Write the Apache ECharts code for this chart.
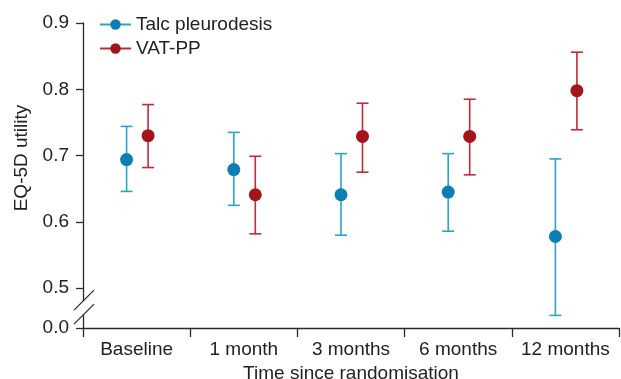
<!DOCTYPE html>
<html>
<head>
<meta charset="utf-8">
<script src="https://cdn.jsdelivr.net/npm/echarts@6/dist/echarts.min.js"></script>
<style>
  html, body { margin: 0; padding: 0; background: #fff; }
  #chart { width: 621px; height: 379px; }
</style>
</head>
<body>
<div id="chart"></div>
<script>
const categories = ['Baseline', '1 month', '3 months', '6 months', '12 months']
const talcMean = [0.694, 0.679, 0.641, 0.645, 0.578]
const talcLow = [0.646, 0.625, 0.580, 0.586, 0.459]
const talcHigh = [0.744, 0.735, 0.703, 0.703, 0.695]
const vatMean = [0.730, 0.641, 0.729, 0.729, 0.798]
const vatLow = [0.682, 0.582, 0.675, 0.671, 0.739]
const vatHigh = [0.777, 0.699, 0.779, 0.785, 0.856]
const yTicks = [0.5, 0.6, 0.7, 0.8, 0.9]
const yBreakBase = 0.44 // axis is cut here, drawn as 0.0

const font = '"Liberation Sans", Arial, sans-serif'
const fontSize = 19
const axisColor = '#2b2b2b'
const textColor = '#222'
const gridLeft = 83
const talc = { dot: '#0b7fb5', bar: '#2ba3cc', offset: -10 }
const vat = { dot: '#a3141b', bar: '#c22a3a', offset: 11.5 }

const chart = echarts.init(document.getElementById('chart'))

function errorBars(name, low, high, c) {
  return {
    type: 'custom',
    name,
    silent: true,
    z: 2,
    data: low.map((l, i) => [i, l, high[i]]),
    encode: { x: 0, y: [1, 2] },
    renderItem: (params, api) => {
      const lo = api.coord([api.value(0), api.value(1)])
      const hi = api.coord([api.value(0), api.value(2)])
      const x = lo[0] + c.offset
      const w = 6
      const style = { stroke: c.bar, lineWidth: 1.6 }
      return {
        type: 'group',
        children: [
          { type: 'line', shape: { x1: x, y1: hi[1], x2: x, y2: lo[1] }, style },
          { type: 'line', shape: { x1: x - w, y1: hi[1], x2: x + w, y2: hi[1] }, style },
          { type: 'line', shape: { x1: x - w, y1: lo[1], x2: x + w, y2: lo[1] }, style },
        ],
      }
    },
  }
}

function points(name, values, c) {
  return {
    type: 'line',
    name,
    data: values,
    symbol: 'circle',
    symbolSize: 13,
    symbolOffset: [c.offset, 0],
    showSymbol: true,
    lineStyle: { opacity: 0 },
    itemStyle: { color: c.dot },
    z: 3,
    silent: true,
  }
}

chart.setOption({
  animation: false,
  textStyle: { fontFamily: font },
  grid: { left: gridLeft, right: 2, top: 23, bottom: 51, containLabel: false, outerBoundsMode: 'none' },
  legend: {
    orient: 'vertical',
    left: 94,
    top: 10,
    itemWidth: 31,
    itemHeight: 13,
    itemGap: 5,
    textStyle: { fontSize, color: textColor, fontFamily: font },
    data: [
      { name: 'Talc pleurodesis', lineStyle: { color: talc.bar, width: 2, opacity: 1 } },
      { name: 'VAT-PP', lineStyle: { color: vat.bar, width: 2, opacity: 1 } },
    ],
  },
  xAxis: {
    type: 'category',
    data: categories,
    boundaryGap: true,
    name: 'Time since randomisation',
    nameLocation: 'middle',
    nameGap: 33,
    nameTextStyle: { fontSize, color: textColor },
    axisLine: { lineStyle: { color: axisColor, width: 1.3 } },
    axisTick: { show: true, interval: 0, length: 9, lineStyle: { color: axisColor, width: 1.3 } },
    axisLabel: { interval: 0, fontSize, color: textColor, margin: 12 },
  },
  yAxis: {
    type: 'value',
    min: yBreakBase,
    max: 0.9,
    name: 'EQ-5D utility',
    nameLocation: 'middle',
    nameGap: 52,
    nameRotate: 90,
    nameTextStyle: { fontSize, color: textColor, padding: [0, 0, 0, 35] },
    splitLine: { show: false },
    axisLine: { show: true, lineStyle: { color: axisColor, width: 1.3 } },
    axisTick: {
      show: true,
      length: 7,
      customValues: [yBreakBase, ...yTicks],
      lineStyle: { color: axisColor, width: 1.3 },
    },
    axisLabel: {
      fontSize,
      color: textColor,
      margin: 14,
      customValues: [yBreakBase, ...yTicks],
      formatter: (v) => (v < yTicks[0] - 0.01 ? '0.0' : v.toFixed(1)),
    },
  },
  series: [
    errorBars('Talc CI', talcLow, talcHigh, talc),
    errorBars('VAT CI', vatLow, vatHigh, vat),
    points('Talc pleurodesis', talcMean, talc),
    points('VAT-PP', vatMean, vat),
  ],
})

// break marks on the y axis between 0.0 and 0.5
const breakY = chart.convertToPixel({ yAxisIndex: 0 }, (yTicks[0] + yBreakBase) / 2)
const yUp = breakY - 7
const yDown = breakY + 7
const slash = (y) => ({
  type: 'line',
  z: 100,
  shape: { x1: gridLeft - 9, y1: y + 9, x2: gridLeft + 11, y2: y - 11 },
  style: { stroke: axisColor, lineWidth: 1.3 },
})
chart.setOption({
  graphic: [
    { type: 'rect', z: 99, shape: { x: gridLeft - 3, y: yUp, width: 6, height: yDown - yUp }, style: { fill: '#fff' } },
    slash(yUp),
    slash(yDown),
  ],
})
</script>
</body>
</html>
